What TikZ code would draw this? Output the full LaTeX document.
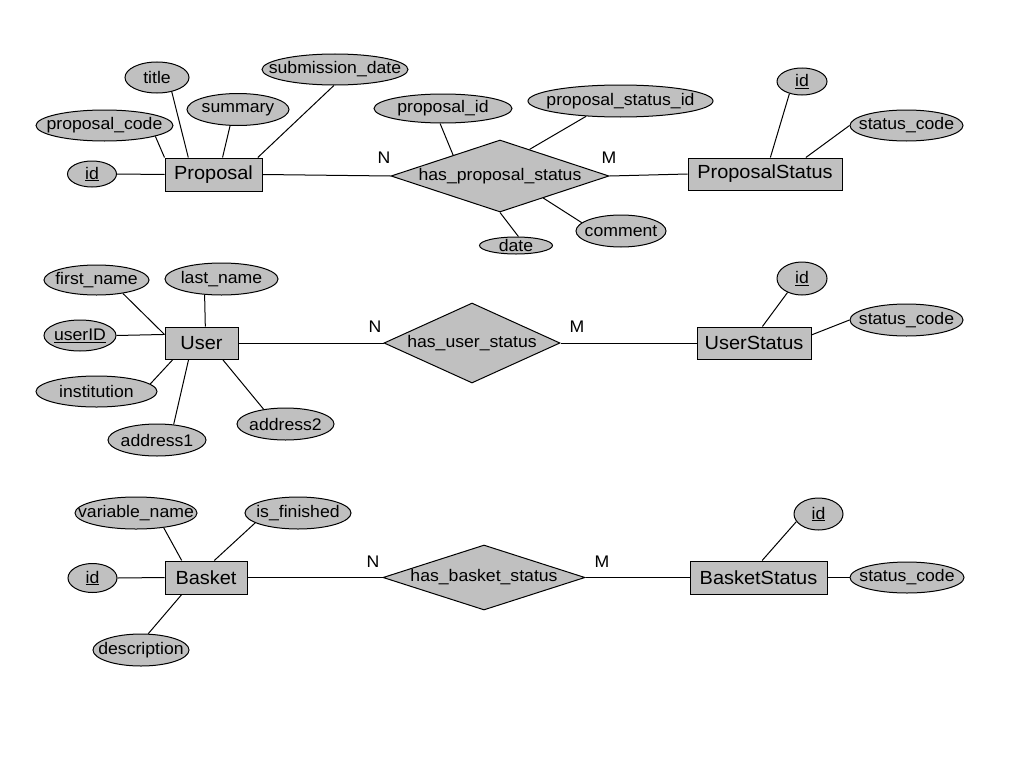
\documentclass[tikz,border=0pt]{standalone}
\usepackage{fontspec}
\setmainfont{Liberation Sans}[FakeStretch=1.05]
\usetikzlibrary{shapes.geometric}
\definecolor{ergray}{RGB}{192,192,192}
\tikzset{
  attr/.style={ellipse, draw=black, fill=ergray, inner sep=0pt, line width=1pt},
  ent/.style={rectangle, draw=black, fill=ergray, inner sep=0pt, line width=1pt, font=\fontsize{19}{21}\selectfont},
  rel/.style={diamond, draw=black, fill=ergray, inner sep=0pt, line width=1pt},
  card/.style={font=\fontsize{16.8}{18}\selectfont, inner sep=0pt},
  conn/.style={line width=1pt},
  every label/.style={font=\fontsize{16.8}{18}\selectfont, inner sep=0pt},
}
\newcommand\attrnode[5]{\node[attr, minimum width=#4pt, minimum height=#5pt, label=center:{#3}] (#1) at #2 {};}
\begin{document}
\begin{tikzpicture}[x=1pt,y=-1pt]
\useasboundingbox (0,0) rectangle (1024,768);
% ---------------- Proposal ----------------
\node[ent, minimum width=97pt, minimum height=33pt] (proposal) at (213.5,174.5) {Proposal};
\attrnode{pid}{(92,174)}{\underline{id}}{49}{26}
\attrnode{pcode}{(104.5,125.5)}{proposal\_code}{137}{31}
\attrnode{ptitle}{(157,77.5)}{title}{64}{31}
\attrnode{psum}{(238,109.5)}{summary}{102}{32}
\attrnode{psub}{(335,69.5)}{submission\_date}{146}{31}
\node[rel, minimum width=218pt, minimum height=72pt, label=center:{has\_proposal\_status}] (hps) at (500,176) {};
\attrnode{hpspid}{(443,108.5)}{proposal\_id}{138}{29}
\attrnode{hpspsid}{(620.5,101)}{proposal\_status\_id}{185}{32}
\attrnode{hpscom}{(621,231)}{comment}{90}{32}
\attrnode{hpsdate}{(516,245.5)}{date}{73}{17}
\node[card] (n1) at (384,158) {N};
\node[card] (m1) at (609,158) {M};
\node[ent, minimum width=154pt, minimum height=32pt] (ps) at (765,174) {ProposalStatus};
\attrnode{psid}{(802,81.5)}{\underline{id}}{50}{27}
\attrnode{pscode}{(906.5,125.5)}{status\_code}{113}{31}
\draw[conn] (pid.east) -- (proposal.west);
\draw[conn] (pcode.-12.5) -- (proposal.north west);
\draw[conn] (ptitle.-44) -- (proposal.146);
\draw[conn] (psum.-116) -- (proposal.62.7);
\draw[conn] (psub.-94) -- (proposal.21.7);
\draw[conn] (proposal.east) -- (hps.west);
\draw[conn] (hps.east) -- (ps.west);
\draw[conn] (hpspid.-101.7) -- (hps.156.6);
\draw[conn] (hpspsid.-156.9) -- (hps.42.9);
\draw[conn] (hpscom.168) -- (hps.-27);
\draw[conn] (hpsdate.75) -- (hps.south);
\draw[conn] (psid.-136) -- (ps.72.6);
\draw[conn] (pscode.west) -- (ps.22.8);
% ---------------- User ----------------
\node[ent, minimum width=73pt, minimum height=32pt] (user) at (201.5,343) {User};
\attrnode{ufirst}{(96.5,280)}{first\_name}{105}{30}
\attrnode{ulast}{(221.5,279)}{last\_name}{113}{32}
\attrnode{uid}{(80,335.5)}{\underline{userID}}{72}{31}
\attrnode{uinst}{(96.5,391.5)}{institution}{121}{31}
\attrnode{uaddr1}{(157,440)}{address1}{98}{32}
\attrnode{uaddr2}{(285.5,424)}{address2}{97}{32}
\node[rel, minimum width=176pt, minimum height=80pt, label=center:{has\_user\_status}] (hus) at (472,343) {};
\node[card] (n2) at (375,327) {N};
\node[card] (m2) at (577,327) {M};
\node[ent, minimum width=114pt, minimum height=32pt] (us) at (754,343) {UserStatus};
\attrnode{usid}{(802,278.5)}{\underline{id}}{50}{33}
\attrnode{uscode}{(906.5,320)}{status\_code}{113}{32}
\draw[conn] (ufirst.-27.8) -- (user.167.6);
\draw[conn] (ulast.-137) -- (user.77.7);
\draw[conn] (uid.east) -- (user.167.6);
\draw[conn] (uinst.8) -- (user.-150.7);
\draw[conn] (uaddr1.43) -- (user.-128);
\draw[conn] (uaddr2.146.9) -- (user.-38);
\draw[conn] (user.east) -- (hus.west);
\draw[conn] (hus.east) -- (us.west);
\draw[conn] (usid.-136) -- (us.63.4);
\draw[conn] (uscode.west) -- (us.8);
% ---------------- Basket ----------------
\node[ent, minimum width=82pt, minimum height=33pt] (basket) at (206,577.5) {Basket};
\attrnode{bvar}{(136,513)}{variable\_name}{122}{32}
\attrnode{bfin}{(298,513)}{is\_finished}{106}{32}
\attrnode{bid}{(92.5,578)}{\underline{id}}{49}{29}
\attrnode{bdesc}{(141,650)}{description}{96}{32}
\node[rel, minimum width=202pt, minimum height=65pt, label=center:{has\_basket\_status}] (hbs) at (484,577.5) {};
\node[card] (n3) at (373,562) {N};
\node[card] (m3) at (602,562) {M};
\node[ent, minimum width=137pt, minimum height=33pt] (bs) at (758.5,577.5) {BasketStatus};
\attrnode{bsid}{(818.5,514)}{\underline{id}}{49}{32}
\attrnode{bscode}{(907,577.5)}{status\_code}{114}{31}
\draw[conn] (bvar.-28.9) -- (basket.145.5);
\draw[conn] (bfin.-167) -- (basket.64);
\draw[conn] (bid.east) -- (basket.west);
\draw[conn] (bdesc.66) -- (basket.-145.5);
\draw[conn] (basket.east) -- (hbs.west);
\draw[conn] (hbs.east) -- (bs.west);
\draw[conn] (bsid.-161) -- (bs.78);
\draw[conn] (bscode.west) -- (bs.east);
\end{tikzpicture}
\end{document}
